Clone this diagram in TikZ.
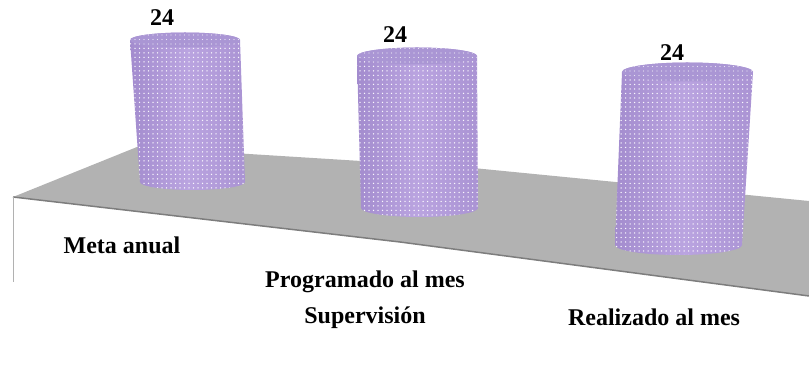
\documentclass[tikz,border=0pt]{standalone}
\usepackage{fontspec}
\setmainfont{Liberation Serif}
\usetikzlibrary{patterns.meta}
\definecolor{cylmain}{RGB}{186,164,224}
\definecolor{cyldark}{RGB}{163,140,206}
\definecolor{cyltop}{RGB}{170,150,212}
\definecolor{floorgray}{RGB}{178,178,178}
\definecolor{edgegray}{RGB}{125,125,125}
\tikzset{
  cylbody/.style={left color=cyldark, right color=cyldark!70!cylmain, middle color=cylmain,
    postaction={pattern={Dots[distance=4.5pt,radius=0.75pt]}, pattern color=white!92!cylmain}},
  cyltopst/.style={fill=cyltop, postaction={pattern={Dots[distance=4.5pt,radius=0.6pt]}, pattern color=white!75!cyltop}},
  valuelbl/.style={font=\fontsize{24}{28}\selectfont\bfseries, inner sep=0pt},
  catlbl/.style={font=\fontsize{24}{28}\selectfont\bfseries, inner sep=0pt}
}
\begin{document}
\begin{tikzpicture}[x=1pt,y=1pt]
\useasboundingbox (0,0) rectangle (809,377);
% floor
\coordinate (fl) at (13,180);
\coordinate (bl) at (137,230);
\coordinate (bm) at (473,209);
\coordinate (br) at (809,176);
\coordinate (fr) at (809,81);
\coordinate (fm) at (400,135);
\coordinate (wl) at (13,95);
\fill[floorgray] (fl) -- (bl) -- (bm) -- (br) -- (fr) -- (fm) -- cycle;
\draw[edgegray, line width=1.5pt] (fl) -- (fm) -- (fr);
\draw[edgegray!60, line width=1pt] (fl) -- (wl);
% cylinder 1
\path[cylbody] (130,337) -- (140,195) arc[start angle=180,end angle=360,x radius=52.5,y radius=8]
  -- (240,337) arc[start angle=0,end angle=180,x radius=55,y radius=7.5] -- cycle;
\path[cyltopst] (185,337) ellipse[x radius=55,y radius=7.5];
% cylinder 2
\path[cylbody] (357,321) -- (361,169) arc[start angle=180,end angle=360,x radius=58.5,y radius=9]
  -- (477,321) arc[start angle=0,end angle=180,x radius=60,y radius=8.5] -- cycle;
\path[cyltopst] (417,321) ellipse[x radius=60,y radius=8.5];
% cylinder 3
\path[cylbody] (622,305) -- (615,132) arc[start angle=180,end angle=360,x radius=63.5,y radius=10]
  -- (753,305) arc[start angle=0,end angle=180,x radius=65.5,y radius=9.5] -- cycle;
\path[cyltopst] (687.5,305) ellipse[x radius=65.5,y radius=9.5];
% value labels
\node[valuelbl] (v1) at (162,359) {24};
\node[valuelbl] (v2) at (395,342) {24};
\node[valuelbl] (v3) at (672,324) {24};
% category labels
\node[catlbl] (c1) at (122,132) {Meta anual};
\node[catlbl] (c2) at (365,95) {Programado al mes};
\node[catlbl] (c2b) at (365,59) {Supervisión};
\node[catlbl] (c3) at (654,60) {Realizado al mes};
\end{tikzpicture}
\end{document}
